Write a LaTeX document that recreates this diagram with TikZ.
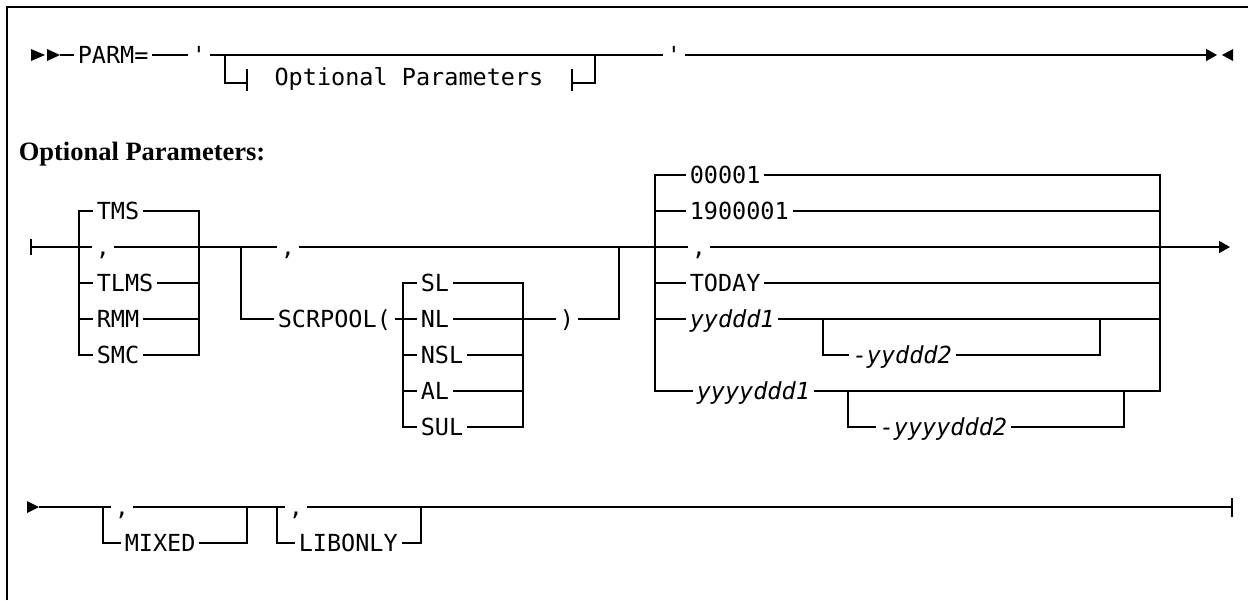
\documentclass[tikz,border=0pt]{standalone}
\usepackage{fontspec}
\setmainfont{Liberation Serif}
\newfontfamily\rrfamily{DejaVu Sans Mono}
\usetikzlibrary{arrows.meta}
\newcommand{\rrfont}{\rrfamily\fontsize{23.5}{28}\selectfont}
\newcommand{\headfont}{\rmfamily\bfseries\fontsize{26.5}{32}\selectfont}
\tikzset{
  rail/.style  = {line width=1.5pt},
  kw/.style    = {anchor=west, inner xsep=3pt, inner ysep=0pt, text height=17pt,
                  text depth=0pt, font=\rrfont},
  var/.style   = {kw, font=\rrfont\itshape},
  head/.style  = {anchor=base west, inner sep=0pt, font=\headfont},
  arrow/.style = {-{Triangle[length=11pt,width=12pt]}},
}
\begin{document}
\begin{tikzpicture}[x=1pt,y=-1pt,rail]
  \useasboundingbox (0,0) rectangle (1248,600);
  \draw[line width=2pt] (7,600) -- (7,7) -- (1248,7);

  % main statement
  \fill (31,49) -- (45,55) -- (31,61) -- cycle;
  \fill (47,49) -- (60,55) -- (47,61) -- cycle;
  \coordinate (m0) at (60,55);
  \node[kw] (parm) at (74,55) {PARM=};
  \node[kw] (q1) at (188,55) {'};
  \node[kw] (q2) at (663,55) {'};
  \coordinate (m1) at (1217,55);
  \draw (m0) -- (parm.west);
  \draw (parm.east) -- (q1.west);
  \draw (q1.east) -- (q2.west);
  \draw[arrow] (q2.east) -- (m1);
  \fill (1233,49) -- (1222,55) -- (1233,61) -- cycle;
  % fragment reference
  \coordinate (f0) at (225,55);
  \coordinate (f1) at (595,55);
  \coordinate (f2) at (247,83);
  \coordinate (f3) at (572,83);
  \node[kw, anchor=center] (opt) at (409,77) {Optional Parameters};
  \draw (f0) |- (f2);
  \draw (f3) -| (f1);
  \draw (f2) ++(0,-14) -- ++(0,22);
  \draw (f3) ++(0,-14) -- ++(0,22);

  \node[head] (hd) at (18,160) {Optional Parameters:};

  % fragment: volume type
  \coordinate (o0) at (31,247);
  \draw (o0) ++(0,-8) -- ++(0,16);
  \coordinate (a0) at (79,247);
  \coordinate (a1) at (199,247);
  \node[kw] (tms) at (93,211) {TMS};
  \node[kw] (ca) at (92,247) {,};
  \node[kw] (tlms) at (93,283) {TLMS};
  \node[kw] (rmm) at (93,319) {RMM};
  \node[kw] (smc) at (93,355) {SMC};
  \draw (tms.west) -| (a0) |- (smc.west);
  \draw (tms.east) -| (a1) |- (smc.east);
  \foreach \n in {tlms,rmm} {
    \draw (a0 |- \n) -- (\n.west);
    \draw (\n.east) -- (a1 |- \n);
  }
  \draw (o0) -- (ca.west);

  % scratch pool
  \coordinate (b0) at (241,247);
  \coordinate (b1) at (619,247);
  \node[kw] (cb) at (277,247) {,};
  \node[kw] (scr) at (274,319) {SCRPOOL(};
  \node[kw] (rp) at (556,319) {)};
  \draw (ca.east) -- (cb.west);
  \draw (b0) |- (scr.west);
  \draw (rp.east) -| (b1);
  \coordinate (c0) at (403,319);
  \coordinate (c1) at (523,319);
  \node[kw] (sl) at (417,283) {SL};
  \node[kw] (nl) at (417,319) {NL};
  \node[kw] (nsl) at (417,355) {NSL};
  \node[kw] (al) at (417,391) {AL};
  \node[kw] (sul) at (417,427) {SUL};
  \draw (sl.west) -| (c0) |- (sul.west);
  \draw (sl.east) -| (c1) |- (sul.east);
  \foreach \n in {nsl,al} {
    \draw (c0 |- \n) -- (\n.west);
    \draw (\n.east) -- (c1 |- \n);
  }
  \draw (scr.east) -- (nl.west);
  \draw (nl.east) -- (rp.west);

  % dates
  \coordinate (d0) at (655,247);
  \coordinate (d1) at (1160,247);
  \coordinate (oe) at (1230,247);
  \node[kw] (n1) at (686,175) {00001};
  \node[kw] (n2) at (686,211) {1900001};
  \node[kw] (cd) at (688,247) {,};
  \node[kw] (td) at (686,283) {TODAY};
  \node[var] (y1) at (686,319) {yyddd1};
  \node[var] (y2) at (849,355) {-yyddd2};
  \node[var] (z1) at (693,391) {yyyyddd1};
  \node[var] (z2) at (876,427) {-yyyyddd2};
  \draw (cb.east) -- (cd.west);
  \draw (n1.west) -| (d0) |- (z1.west);
  \draw (n1.east) -| (d1) |- (z1.east);
  \foreach \n in {n2,td,y1} {
    \draw (d0 |- \n) -- (\n.west);
    \draw (\n.east) -- (d1 |- \n);
  }
  \draw[arrow] (cd.east) -- (oe);
  \coordinate (y0) at (823,319);
  \coordinate (y3) at (1100,319);
  \draw (y0) |- (y2.west);
  \draw (y2.east) -| (y3);
  \coordinate (z0) at (848,391);
  \coordinate (z3) at (1124,391);
  \draw (z0) |- (z2.west);
  \draw (z2.east) -| (z3);

  % continuation
  \fill (27,501) -- (39,507) -- (27,513) -- cycle;
  \coordinate (r0) at (39,507);
  \coordinate (e0) at (103,507);
  \coordinate (e1) at (247,507);
  \node[kw] (ce) at (111,507) {,};
  \node[kw] (mix) at (121,543) {MIXED};
  \coordinate (g0) at (277,507);
  \coordinate (g1) at (421,507);
  \node[kw] (cg) at (285,507) {,};
  \node[kw] (lib) at (295,543) {LIBONLY};
  \coordinate (r1) at (1232,507);
  \draw (r0) -- (ce.west);
  \draw (ce.east) -- (cg.west);
  \draw (cg.east) -- (r1);
  \draw (r1) ++(0,-9) -- ++(0,19);
  \draw (e0) |- (mix.west);
  \draw (mix.east) -| (e1);
  \draw (g0) |- (lib.west);
  \draw (lib.east) -| (g1);
\end{tikzpicture}
\end{document}
